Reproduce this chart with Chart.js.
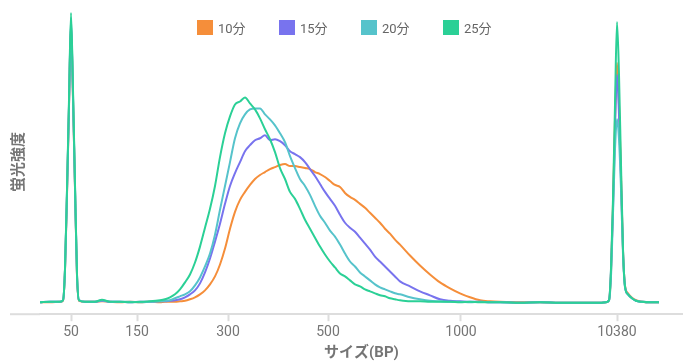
<!DOCTYPE html>
<html>
<head>
<meta charset="utf-8">
<script src="https://cdn.jsdelivr.net/npm/chart.js@4/dist/chart.umd.min.js"></script>
<style>
  body { margin: 0; background: #fff; }
  #wrap { position: relative; width: 683px; height: 362px; }
  #legend { position: absolute; top: 20px; left: 197px; display: flex; font: 13px Roboto, "Noto Sans CJK JP", sans-serif; color: #666; }
  .item { width: 82px; display: flex; align-items: center; height: 15px; }
  .box { width: 16px; height: 15px; margin-right: 5px; }
</style>
</head>
<body>
<div id="wrap">
  <canvas id="myChart"></canvas>
  <div id="legend"></div>
</div>
<script>
// sample position along the run (capillary scan index)
const samplePos = [
  0, 10, 20, 23, 25, 27, 29, 31, 33, 35, 37, 39, 45, 55, 62, 70, 80, 90, 100, 110,
  120, 125, 130, 135, 140, 145, 150, 155, 160, 165, 170, 175, 180, 185, 190, 195, 200, 205, 210, 215,
  220, 225, 230, 235, 240, 245, 250, 255, 260, 265, 270, 275, 280, 285, 290, 295, 300, 305, 310, 315,
  320, 325, 330, 335, 340, 345, 350, 355, 360, 370, 380, 390, 400, 410, 420, 430, 440, 450, 460, 480,
  500, 520, 540, 560, 566, 569, 571, 573, 575, 577, 579, 581, 583, 585, 588, 592, 596, 602, 610, 619
];

const min10 = [
  12, 12, 12.5, 13.5, 44, 120, 208, 292, 216, 126, 38, 13.5, 12.5, 12.5, 13, 12.5, 12, 12.5, 12, 12.5,
  12, 12.5, 12.5, 12.5, 13, 13.5, 15, 17, 20, 24, 30, 38, 50, 66, 86, 103, 115, 123, 130, 136,
  140, 143, 146, 148, 150, 151, 149, 149, 148, 147, 146, 143, 141, 138, 134, 130, 128, 122, 118, 115,
  111, 107, 102, 97, 92, 86, 81, 75, 70, 59, 49, 40, 32, 26, 21, 17, 14, 13, 12.5, 12,
  12, 11.5, 11.5, 11.5, 12, 14, 42, 111, 196, 253, 211, 141, 64, 29, 21, 16.5, 14, 12.5, 12, 12
];

const min15 = [
  12, 12.5, 12.5, 14, 45, 122, 210, 294, 218, 127, 39, 14, 12.5, 12.5, 13.5, 12.5, 12.5, 12, 12.5, 12.5,
  13, 13, 13.5, 14, 15, 17, 20, 24, 31, 42, 56, 73, 91, 111, 129, 142, 153, 164, 170, 175,
  177, 180, 175, 176, 174, 170, 164, 161, 158, 153, 146, 139, 131, 123, 116, 109, 100, 92, 87, 83,
  77, 71, 65, 58, 53, 48, 43, 38, 33, 28, 23, 19, 15, 13.5, 13, 12.5, 12.5, 12, 12, 11.5,
  12, 11.5, 11.5, 11.5, 12, 14, 44, 106, 186, 241, 201, 136, 64, 28, 20, 16, 13.5, 12.5, 12, 12
];

const min20 = [
  12, 12.5, 12.5, 14, 45, 124, 212, 298, 222, 129, 40, 14, 12.5, 12.5, 14, 12.5, 12.5, 12.5, 12, 12.5,
  13, 13.5, 14, 16, 18, 20, 23, 29, 37, 48, 61, 80, 105, 129, 153, 177, 192, 201, 206, 207,
  207, 201, 196, 190, 182, 173, 159, 147, 136, 129, 120, 109, 99, 92, 84, 78, 70, 61, 53, 48,
  42, 38, 34, 30, 27, 25, 23, 21, 20, 17, 15, 13.5, 13, 12.5, 12.5, 12, 12.5, 12, 12, 11.5,
  12, 11.5, 11.5, 11.5, 12, 13.5, 38, 101, 166, 196, 176, 126, 60, 27, 20, 16, 13.5, 12.5, 12, 12
];

const min25 = [
  12, 12.5, 12.5, 14, 46, 126, 216, 303, 226, 131, 41, 14, 12.5, 12.5, 14.5, 12.5, 12.5, 12, 12.5, 13,
  14, 15, 17, 20, 25, 32, 40, 52, 68, 87, 106, 129, 158, 182, 199, 211, 214, 218, 212, 206,
  197, 186, 176, 163, 147, 136, 123, 116, 106, 95, 86, 77, 68, 60, 53, 47, 41, 38, 34, 30,
  28, 25, 23, 21, 19, 18, 16, 15, 14, 13, 13, 12.5, 12.5, 12.5, 12, 12.5, 12, 12, 12, 11.5,
  12, 11.5, 11.5, 11.5, 12, 14, 46, 116, 211, 294, 241, 151, 66, 28, 20, 16, 13.5, 12.5, 12, 12
];

const seriesNames = ['10分', '15分', '20分', '25分'];
const seriesValues = [min10, min15, min20, min25];
const seriesColors = ['#F58E3A', '#7873EE', '#56C3CB', '#2BD096'];

// size ladder ticks (bp) and where they fall on the scan
const tickPos = [31, 97, 188, 288, 421, 577];
const tickLabels = ['50', '150', '300', '500', '1000', '10380'];

const axisGrey = '#dddddd';
const textGrey = '#757575';

const datasets = seriesNames.map((name, i) => ({
  label: name,
  data: samplePos.map((x, j) => ({ x: x, y: seriesValues[i][j] })),
  borderColor: seriesColors[i],
  backgroundColor: seriesColors[i],
  borderWidth: 2,
  pointRadius: 0,
  cubicInterpolationMode: 'monotone',
  order: seriesNames.length - i
}));

// y title and the axis line running under it
const decor = {
  id: 'decor',
  afterDraw(chart) {
    const ctx = chart.ctx;
    const area = chart.chartArea;
    ctx.save();
    ctx.strokeStyle = axisGrey;
    ctx.lineWidth = 2;
    ctx.beginPath();
    ctx.moveTo(10, area.bottom);
    ctx.lineTo(area.left, area.bottom);
    ctx.stroke();
    ctx.translate(19, (area.top + area.bottom) / 2);
    ctx.rotate(-Math.PI / 2);
    ctx.fillStyle = textGrey;
    ctx.font = 'bold 15px Roboto, "Noto Sans CJK JP", sans-serif';
    ctx.textAlign = 'center';
    ctx.textBaseline = 'middle';
    ctx.fillText('蛍光強度', 0, 0);
    ctx.restore();
  }
};

const config = {
  type: 'line',
  data: { datasets: datasets },
  options: {
    responsive: true,
    maintainAspectRatio: false,
    animation: false,
    layout: { padding: { left: 40, top: 10, right: 0, bottom: 0 } },
    plugins: {
      legend: { display: false },
      tooltip: { enabled: false }
    },
    scales: {
      x: {
        type: 'linear',
        min: 0,
        max: 643,
        afterBuildTicks: (scale) => {
          scale.ticks = tickPos.map(v => ({ value: v }));
        },
        ticks: {
          autoSkip: false,
          maxRotation: 0,
          padding: 3,
          color: textGrey,
          font: { family: 'Roboto, sans-serif', size: 14 },
          callback: (value, index) => tickLabels[index]
        },
        grid: {
          drawOnChartArea: false,
          tickLength: 7,
          tickWidth: 2,
          tickColor: axisGrey
        },
        border: { color: axisGrey, width: 2 },
        title: {
          display: true,
          text: 'サイズ(BP)',
          color: textGrey,
          padding: 0,
          font: { family: 'Roboto, "Noto Sans CJK JP", sans-serif', size: 15, weight: 'bold' }
        }
      },
      y: {
        display: false,
        min: 0,
        max: 306
      }
    }
  },
  plugins: [decor]
};

const myChart = new Chart(document.getElementById('myChart'), config);

// legend built from the chart's own legend items
const legendEl = document.getElementById('legend');
const items = myChart.options.plugins.legend.labels.generateLabels(myChart)
  .sort((a, b) => a.datasetIndex - b.datasetIndex);
items.forEach(item => {
  const el = document.createElement('div');
  el.className = 'item';
  const box = document.createElement('span');
  box.className = 'box';
  box.style.background = item.fillStyle;
  el.appendChild(box);
  el.appendChild(document.createTextNode(item.text));
  legendEl.appendChild(el);
});
</script>
</body>
</html>
